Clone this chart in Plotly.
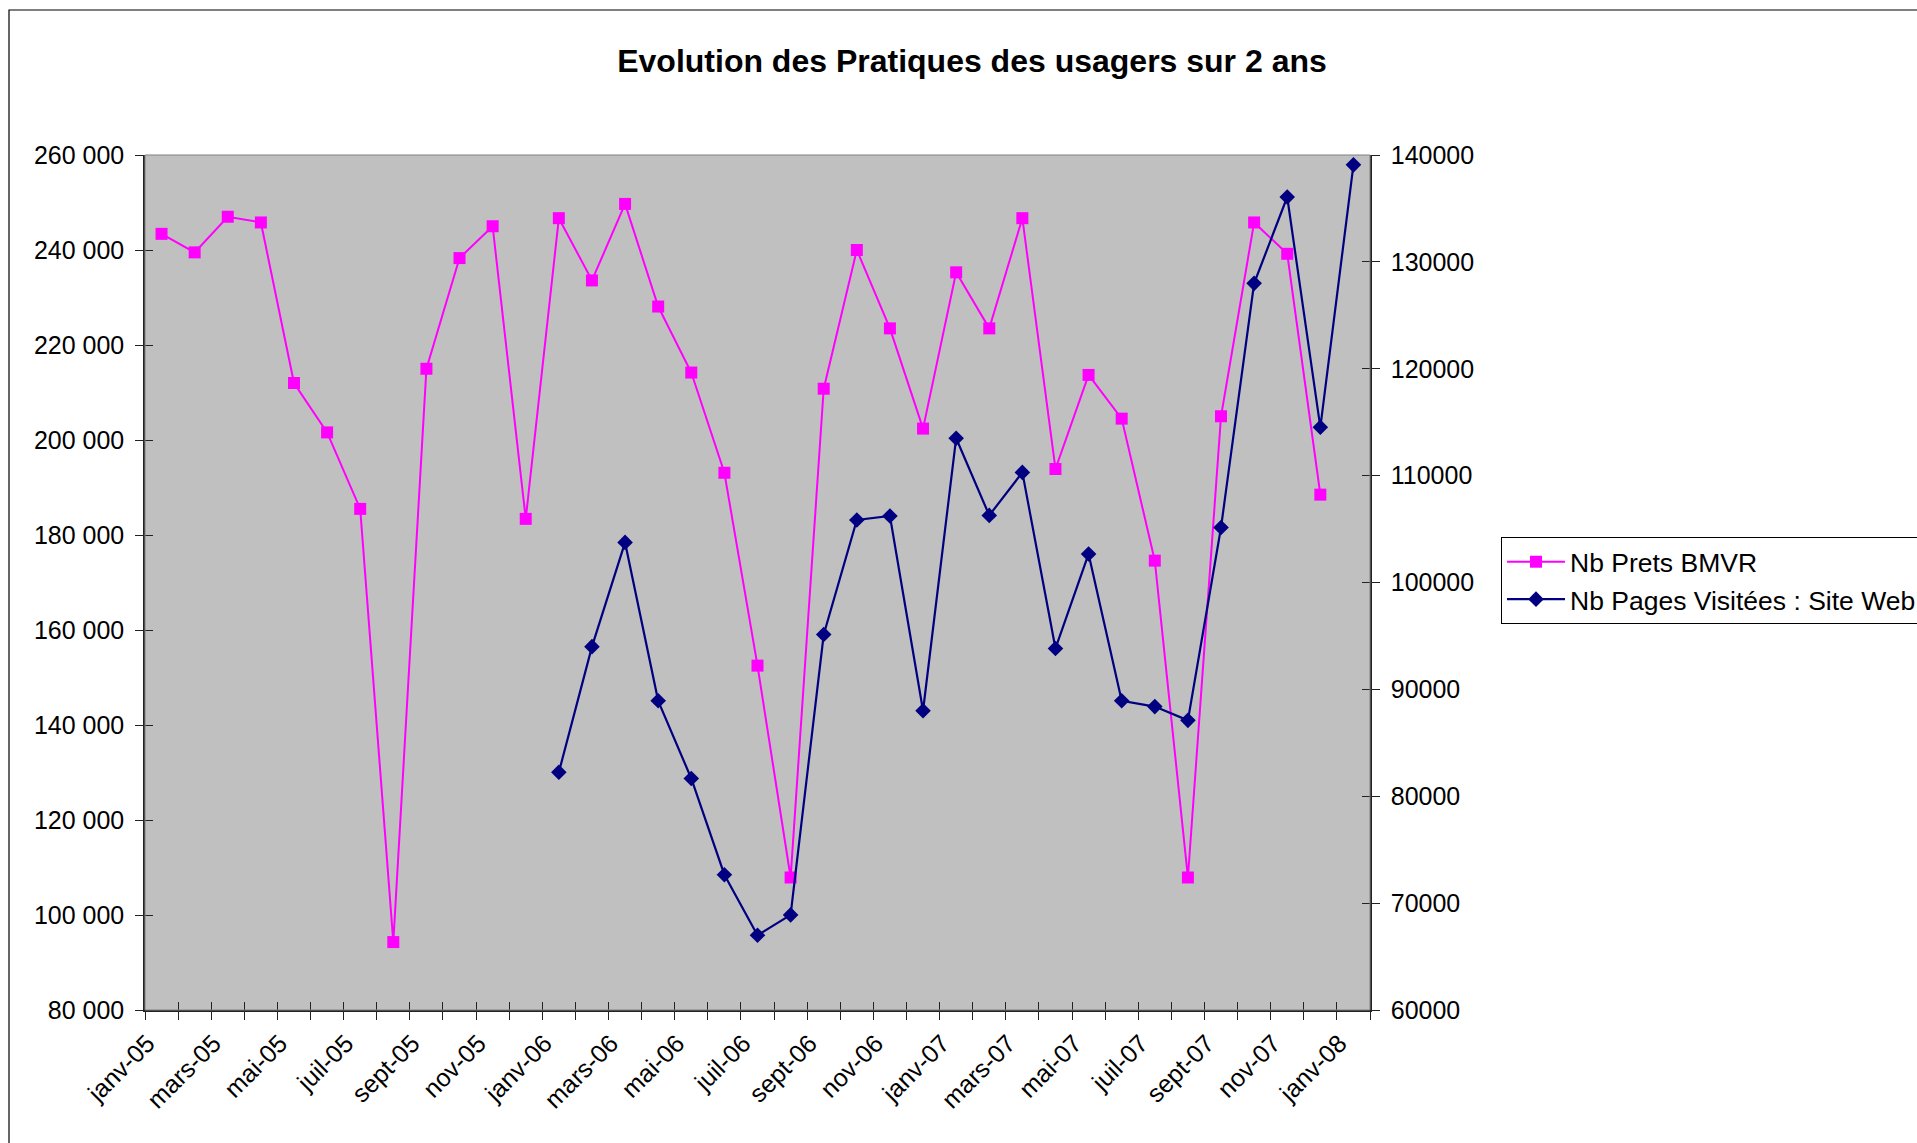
import plotly.graph_objects as go

# ---- data ----
mois = ["janv-05", "févr-05", "mars-05", "avr-05", "mai-05", "juin-05", "juil-05", "août-05",
        "sept-05", "oct-05", "nov-05", "déc-05",
        "janv-06", "févr-06", "mars-06", "avr-06", "mai-06", "juin-06", "juil-06", "août-06",
        "sept-06", "oct-06", "nov-06", "déc-06",
        "janv-07", "févr-07", "mars-07", "avr-07", "mai-07", "juin-07", "juil-07", "août-07",
        "sept-07", "oct-07", "nov-07", "déc-07",
        "janv-08"]

prets_bmvr = [243400, 239500, 247000, 245800, 212000, 201600, 185500, 94300, 215000, 238300, 245000, 183400,
              246700, 233600, 249700, 228100, 214200, 193100, 152500, 107900, 210800, 240000, 223500, 202400,
              235300, 223500, 246700, 193900, 213700, 204500, 174600, 107900, 205000, 245800, 239200, 188500,
              None]

pages_web = [None, None, None, None, None, None, None, None, None, None, None, None,
             82250, 94000, 103750, 88930, 81660, 72660, 67000, 68900, 95130, 105850, 106220, 88000,
             113500, 106280, 110300, 93830, 102670, 88930, 88390, 87100, 105150, 127990, 136070, 114520,
             139080]

tick_text = [m if i % 2 == 0 else "" for i, m in enumerate(mois)]

titre = "Evolution des Pratiques des usagers sur 2 ans"
nom_prets = "Nb Prets BMVR"
nom_pages = "Nb Pages Visitées : Site Web"

FONT = "Liberation Sans, Arial, sans-serif"
W, H = 1917, 1143
L, R, T, B = 145, 1370, 155, 1010

fig = go.Figure()

fig.add_trace(go.Scatter(
    x=mois, y=prets_bmvr, name=nom_prets, mode="lines+markers",
    line=dict(color="#FF00FF", width=2),
    marker=dict(symbol="square", size=12, color="#FF00FF"),
    xaxis="x", yaxis="y", legendgroup="a"))

fig.add_trace(go.Scatter(
    x=mois, y=pages_web, name=nom_pages, mode="lines+markers",
    line=dict(color="#000080", width=2.2),
    marker=dict(symbol="diamond", size=12, color="#000080"),
    xaxis="x", yaxis="y2", legendgroup="b"))

# invisible helper traces so that the overlay axes (inner half of "cross" ticks) exist
fig.add_trace(go.Scatter(x=mois, y=prets_bmvr, xaxis="x2", yaxis="y3", mode="markers",
                         marker=dict(opacity=0), showlegend=False, hoverinfo="skip"))
fig.add_trace(go.Scatter(x=mois, y=pages_web, xaxis="x2", yaxis="y4", mode="markers",
                         marker=dict(opacity=0), showlegend=False, hoverinfo="skip"))

tickfont = dict(family=FONT, size=25, color="black")
xr = [-0.5, len(mois) - 0.5]

xcommon = dict(type="category", range=xr, tickmode="array", tickvals=mois,
               tickson="boundaries", ticklen=8, tickwidth=1, tickcolor="#222",
               showgrid=False, zeroline=False, fixedrange=True)

fig.update_layout(
    width=W, height=H,
    margin=dict(l=L, r=W - R, t=T, b=H - B, autoexpand=False),
    paper_bgcolor="white", plot_bgcolor="#C0C0C0",
    separators=", ",
    font=dict(family=FONT, size=25, color="black"),
    title=dict(text="<b>" + titre + "</b>", xref="container", yref="container",
               x=972 / W, y=1 - 61 / H, xanchor="center", yanchor="middle",
               font=dict(family=FONT, size=32, color="black")),
    xaxis=dict(**xcommon, ticktext=tick_text, ticks="outside", tickangle=-45,
               tickfont=tickfont, ticklabelshift=-14, ticklabelstandoff=7,
               showline=True, linecolor="#222", linewidth=1.5),
    xaxis2=dict(**xcommon, ticktext=[""] * len(mois), ticks="inside", overlaying="x",
                anchor="y3", showticklabels=False, showline=False),
    yaxis=dict(range=[80000, 260000], dtick=20000, tick0=80000, tickformat=",d",
               ticks="outside", ticklen=8, tickcolor="#222", tickfont=tickfont,
               ticklabelstandoff=6,
               showline=True, linecolor="#222", linewidth=1.5, showgrid=False, zeroline=False),
    yaxis2=dict(range=[60000, 140000], dtick=10000, tick0=60000, tickformat="d",
                ticks="outside", ticklen=8, tickcolor="#222", tickfont=tickfont,
                ticklabelstandoff=6,
                side="right", overlaying="y", anchor="x",
                showline=True, linecolor="#222", linewidth=1.5, showgrid=False, zeroline=False),
    yaxis3=dict(range=[80000, 260000], dtick=20000, tick0=80000, ticks="inside", ticklen=8,
                tickcolor="#222", showticklabels=False, overlaying="y", anchor="x2", side="left",
                showgrid=False, zeroline=False, showline=False),
    yaxis4=dict(range=[60000, 140000], dtick=10000, tick0=60000, ticks="inside", ticklen=8,
                tickcolor="#222", showticklabels=False, overlaying="y", anchor="x2", side="right",
                showgrid=False, zeroline=False, showline=False),
    legend=dict(x=(1501 - L) / (R - L), y=(B - 537) / (B - T), xanchor="left", yanchor="top",
                bgcolor="white", bordercolor="black", borderwidth=1,
                font=dict(family=FONT, size=26.5, color="black"),
                itemwidth=58, tracegroupgap=17, traceorder="normal"),
    showlegend=True,
    shapes=[
        # plot-area border (gray)
        dict(type="rect", xref="paper", yref="paper", x0=0, x1=1, y0=0, y1=1,
             line=dict(color="#808080", width=1), fillcolor="rgba(0,0,0,0)", layer="above"),
        # outer chart border
        dict(type="rect", xref="paper", yref="paper",
             x0=(9 - L) / (R - L), y0=(B - 10) / (B - T), x1=3, y1=-3,
             line=dict(color="black", width=1.2), fillcolor="rgba(0,0,0,0)", layer="above"),
    ],
)

fig.write_html("out.html", config={"displayModeBar": False},
               post_script="document.body.style.margin='0';document.body.style.overflow='hidden';")
